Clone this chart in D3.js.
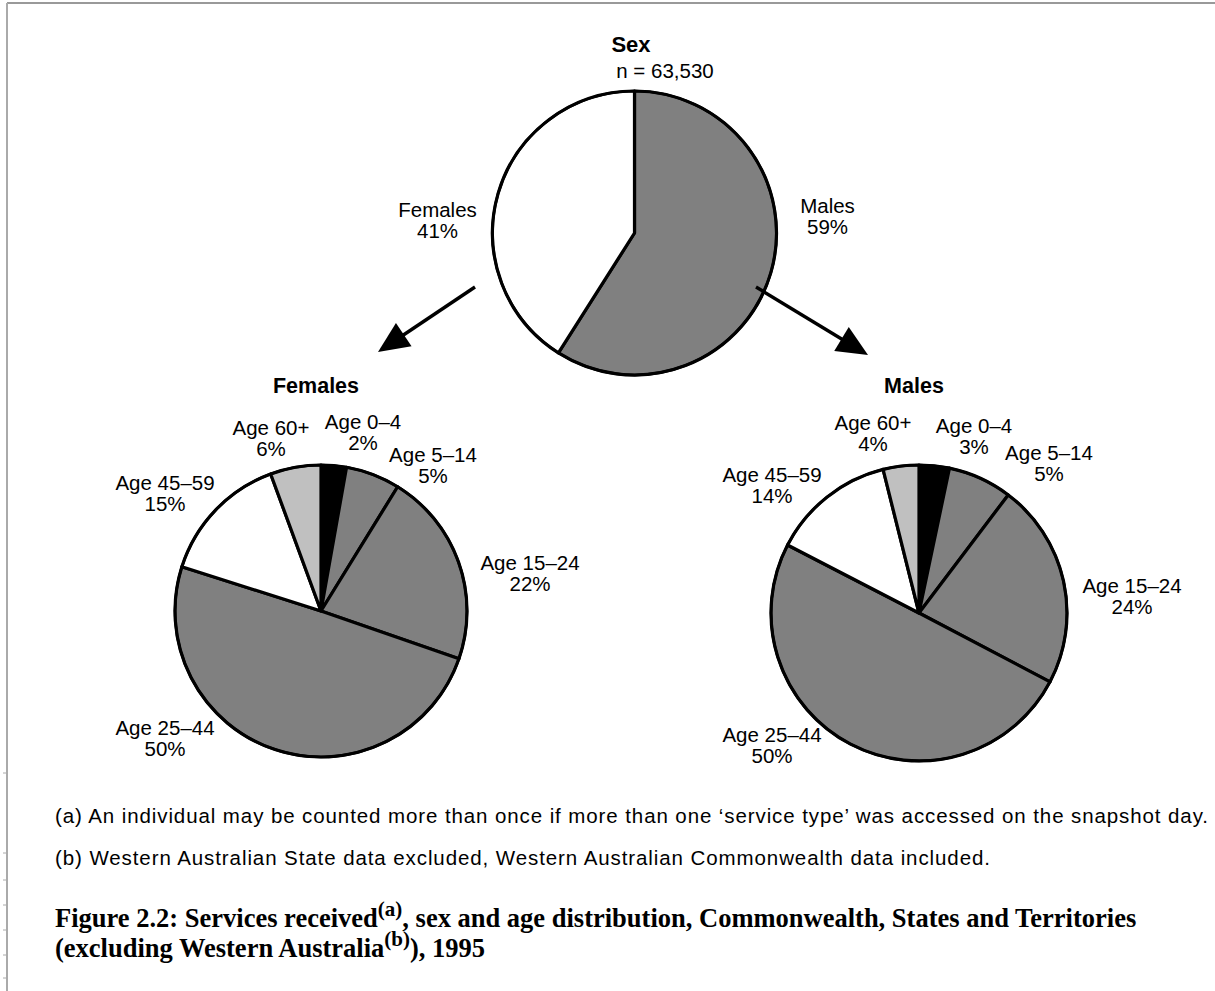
<!DOCTYPE html>
<html>
<head>
<meta charset="utf-8">
<script src="https://cdn.jsdelivr.net/npm/d3@7"></script>
<style>
  body { margin: 0; background: #fff; }
  text { font-family: "Liberation Sans", Arial, sans-serif; fill: #000; }
  .title { font-family: "Liberation Serif", "Times New Roman", serif; font-weight: bold; }
</style>
</head>
<body>
<svg id="chart" width="1215" height="991"></svg>
<script>
// Data
var sexGroups = ['Males', 'Females'];
var sexValues = [59, 41];
var sexLabels = ['59%', '41%'];

var ageGroups = ['Age 0–4', 'Age 5–14', 'Age 15–24', 'Age 25–44', 'Age 45–59', 'Age 60+'];
var femaleValues = [2.8, 6.0, 21.5, 49.6, 14.5, 5.6];
var femaleLabels = ['2%', '5%', '22%', '50%', '15%', '6%'];
var maleValues = [3.3, 7.0, 22.4, 49.9, 13.5, 3.9];
var maleLabels = ['3%', '5%', '24%', '50%', '14%', '4%'];

var sexColors = ['#808080', '#ffffff'];
var ageColors = ['#000000', '#808080', '#808080', '#808080', '#ffffff', '#c0c0c0'];

// Layout
var pies = [
    {
        cx: 634.5, cy: 233, r: 142,
        names: sexGroups, values: sexValues, pct: sexLabels, colors: sexColors,
        // label offsets from the pie centre (x centre, first baseline)
        offsets: [[193, -20], [-197, -16]]
    },
    {
        cx: 321, cy: 611, r: 146, title: 'Females',
        names: ageGroups, values: femaleValues, pct: femaleLabels, colors: ageColors,
        offsets: [[42, -182], [112, -149], [209, -41], [-156, 124], [-156, -121], [-50, -176]]
    },
    {
        cx: 919, cy: 613, r: 148, title: 'Males',
        names: ageGroups, values: maleValues, pct: maleLabels, colors: ageColors,
        offsets: [[55, -180], [130, -153], [213, -20], [-147, 129], [-147, -131], [-46, -183]]
    }
];

var svg = d3.select('#chart');

// frame of the page
svg.append('line').attr('x1', 7).attr('y1', 3).attr('x2', 1215).attr('y2', 3)
    .attr('stroke', '#777').attr('stroke-width', 1.5);
svg.append('line').attr('x1', 7).attr('y1', 3).attr('x2', 7).attr('y2', 991)
    .attr('stroke', '#aaa').attr('stroke-width', 2);
[773, 853, 880, 905, 930, 955, 978].forEach(function(y) {
    svg.append('line').attr('x1', 3).attr('x2', 7).attr('y1', y).attr('y2', y)
        .attr('stroke', '#aaa').attr('stroke-width', 1);
});

var pie = d3.pie().sort(null).value(function(d) { return d; });

pies.forEach(function(p) {
    var g = svg.append('g').attr('transform', 'translate(' + p.cx + ',' + p.cy + ')');
    var arc = d3.arc().innerRadius(0).outerRadius(p.r);

    g.selectAll('path.slice')
        .data(pie(p.values))
        .enter().append('path')
        .attr('class', 'slice')
        .attr('d', arc)
        .attr('fill', function(d, i) { return p.colors[i]; })
        .attr('stroke', '#000')
        .attr('stroke-width', 3.2)
        .attr('stroke-linejoin', 'round');

    g.append('circle').attr('r', p.r).attr('fill', 'none')
        .attr('stroke', '#000').attr('stroke-width', 2.6);

    var lab = g.selectAll('text.lab')
        .data(p.names)
        .enter().append('text')
        .attr('class', 'lab')
        .attr('text-anchor', 'middle')
        .attr('font-size', 20.5)
        .attr('x', function(d, i) { return p.offsets[i][0]; })
        .attr('y', function(d, i) { return p.offsets[i][1]; });
    lab.append('tspan')
        .text(function(d) { return d; });
    lab.append('tspan')
        .attr('x', function(d, i) { return p.offsets[i][0]; })
        .attr('dy', 21)
        .text(function(d, i) { return p.pct[i]; });

    if (p.title) {
        svg.append('text')
            .attr('x', p.cx - 5).attr('y', 393)
            .attr('text-anchor', 'middle')
            .attr('font-size', 21.5).attr('font-weight', 'bold')
            .text(p.title);
    }
});

// top pie headings
svg.append('text').attr('x', 631).attr('y', 52).attr('text-anchor', 'middle')
    .attr('font-size', 22).attr('font-weight', 'bold').text('Sex');
svg.append('text').attr('x', 665).attr('y', 78).attr('text-anchor', 'middle')
    .attr('font-size', 20.5).text('n = 63,530');

// arrows from the sex pie to the age pies
var arrows = [
    { from: [475, 287], to: [378, 352] },
    { from: [756, 287], to: [868, 355] }
];
arrows.forEach(function(a) {
    var dx = a.to[0] - a.from[0], dy = a.to[1] - a.from[1];
    var len = Math.sqrt(dx * dx + dy * dy), ux = dx / len, uy = dy / len;
    var headL = 31, headW = 14;
    var bx = a.to[0] - ux * headL, by = a.to[1] - uy * headL;
    svg.append('line')
        .attr('x1', a.from[0]).attr('y1', a.from[1])
        .attr('x2', bx + ux * 4).attr('y2', by + uy * 4)
        .attr('stroke', '#000').attr('stroke-width', 3.4);
    svg.append('polygon')
        .attr('points', [
            [a.to[0], a.to[1]],
            [bx - uy * headW, by + ux * headW],
            [bx + uy * headW, by - ux * headW]
        ].map(function(pt) { return pt.join(','); }).join(' '))
        .attr('fill', '#000');
});

// footnotes
svg.append('text').attr('x', 55).attr('y', 823).attr('font-size', 20.5)
    .attr('textLength', 1153).attr('lengthAdjust', 'spacing')
    .text('(a) An individual may be counted more than once if more than one \u2018service type\u2019 was accessed on the snapshot day.');
svg.append('text').attr('x', 55).attr('y', 865).attr('font-size', 20.5)
    .attr('textLength', 935).attr('lengthAdjust', 'spacing')
    .text('(b) Western Australian State data excluded, Western Australian Commonwealth data included.');

// figure caption
var t1 = svg.append('text').attr('class', 'title').attr('x', 55).attr('y', 927).attr('font-size', 26.5);
t1.append('tspan').text('Figure 2.2: Services received');
t1.append('tspan').attr('dy', -11).attr('font-size', 21).text('(a)');
t1.append('tspan').attr('dy', 11).text(', sex and age distribution, Commonwealth, States and Territories');

var t2 = svg.append('text').attr('class', 'title').attr('x', 55).attr('y', 957).attr('font-size', 26.5);
t2.append('tspan').text('(excluding Western Australia');
t2.append('tspan').attr('dy', -11).attr('font-size', 21).text('(b)');
t2.append('tspan').attr('dy', 11).text('), 1995');
</script>
</body>
</html>
